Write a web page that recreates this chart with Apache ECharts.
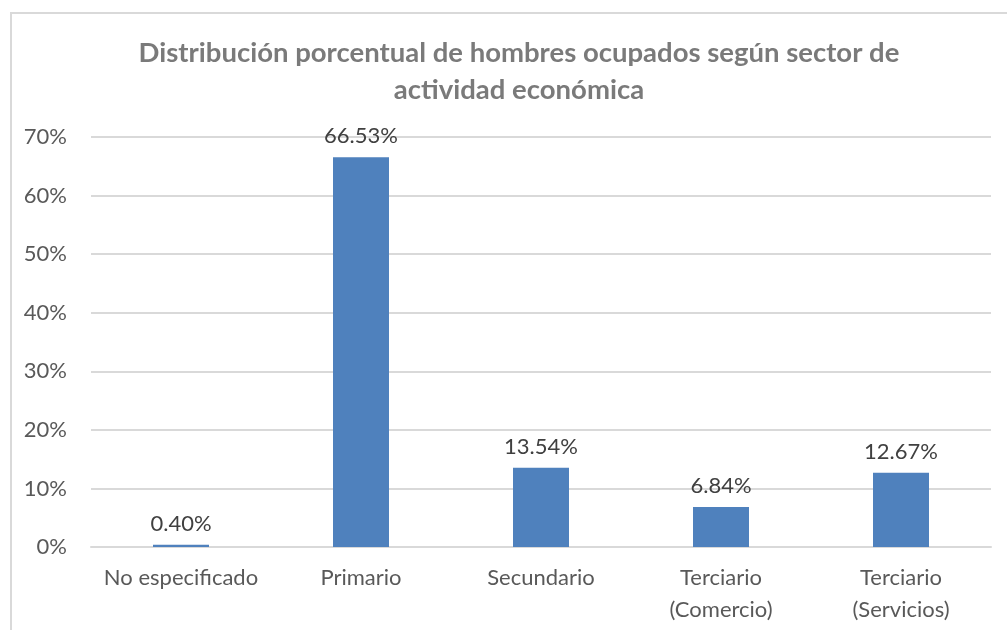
<!DOCTYPE html>
<html>
<head>
<meta charset="utf-8">
<script src="https://cdn.jsdelivr.net/npm/echarts@6/dist/echarts.min.js"></script>
<style>
  html, body { margin: 0; padding: 0; background: #fff; }
  #frame { position: absolute; left: 10px; top: 12px; width: 1100px; height: 700px; border: 2px solid #d9d9d9; box-sizing: border-box; }
  #chart { position: absolute; left: 0; top: 0; width: 1007px; height: 630px; }
</style>
</head>
<body>
<div id="frame"></div>
<div id="chart"></div>
<script>
  // data
  const categories = ['No especificado', 'Primario', 'Secundario', 'Terciario\n(Comercio)', 'Terciario\n(Servicios)']
  const values = [0.40, 66.53, 13.54, 6.84, 12.67]
  const yTicks = [0, 10, 20, 30, 40, 50, 60, 70]

  const chart = echarts.init(document.getElementById('chart'))
  chart.setOption({
    animation: false,
    title: {
      text: 'Distribución porcentual de hombres ocupados según sector de\nactividad económica',
      left: 514,
      textAlign: 'center',
      top: 30,
      textStyle: {
        fontFamily: 'Lato',
        fontWeight: 'bold',
        fontSize: 27.5,
        lineHeight: 37,
        color: '#7a7a7a',
      },
    },
    grid: {
      left: 91,
      right: 16,
      top: 137,
      bottom: 83,
    },
    xAxis: {
      type: 'category',
      data: categories,
      axisLine: { lineStyle: { color: '#d9d9d9', width: 2 } },
      axisTick: { show: false },
      axisLabel: {
        interval: 0,
        fontFamily: 'Lato',
        fontSize: 22,
        lineHeight: 32,
        color: '#595959',
        margin: 15,
      },
    },
    yAxis: {
      type: 'value',
      min: yTicks[0],
      max: yTicks[yTicks.length - 1],
      interval: 10,
      axisLine: { show: false },
      axisTick: { show: false },
      splitLine: { lineStyle: { color: '#d9d9d9', width: 2 } },
      axisLabel: {
        fontFamily: 'Lato',
        fontSize: 22,
        color: '#595959',
        margin: 24,
        formatter: (v) => v + '%',
      },
    },
    series: [
      {
        type: 'bar',
        data: values,
        barWidth: 56,
        itemStyle: { color: '#4f81bd' },
        label: {
          show: true,
          position: 'top',
          distance: 10,
          fontFamily: 'Lato',
          fontSize: 22,
          color: '#404040',
          formatter: (p) => p.value.toFixed(2) + '%',
        },
      },
    ],
  })
</script>
</body>
</html>
